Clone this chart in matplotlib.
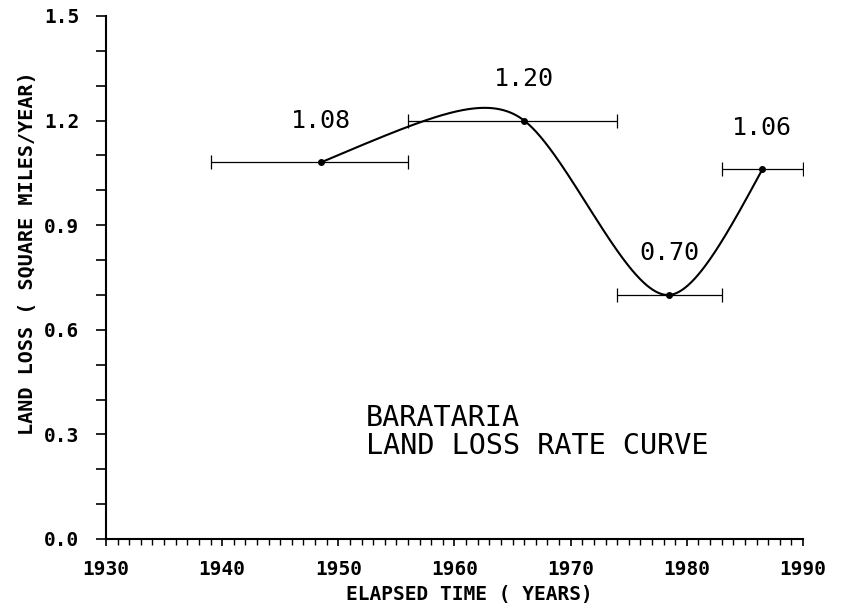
import numpy as np
import matplotlib
matplotlib.use('Agg')
import matplotlib.pyplot as plt
from matplotlib.ticker import MultipleLocator, FormatStrFormatter

# Barataria land loss rate, one estimate per survey interval
years = [1948.5, 1966.0, 1978.5, 1986.5]
rates = [1.08, 1.20, 0.70, 1.06]
interval_start = [1939.0, 1956.0, 1974.0, 1983.0]
interval_end = [1956.0, 1974.0, 1983.0, 1990.0]
rate_labels = ['1.08', '1.20', '0.70', '1.06']


def tension_spline(x, y, sigma, n=400):
    # spline under tension, natural end conditions (z = y'' = 0 at both ends)
    x = np.asarray(x, float)
    y = np.asarray(y, float)
    h = np.diff(x)
    d = np.diff(y) / h
    s = sigma * h
    a = 1.0 / (sigma**2 * h) - 1.0 / (sigma * np.sinh(s))
    b = np.cosh(s) / (sigma * np.sinh(s)) - 1.0 / (sigma**2 * h)
    m = len(x)
    A = np.zeros((m - 2, m - 2))
    r = np.zeros(m - 2)
    for i in range(1, m - 1):
        A[i - 1, i - 1] = b[i - 1] + b[i]
        if i > 1:
            A[i - 1, i - 2] = a[i - 1]
        if i < m - 2:
            A[i - 1, i] = a[i]
        r[i - 1] = d[i] - d[i - 1]
    z = np.zeros(m)
    z[1:-1] = np.linalg.solve(A, r)
    xs, ys = [], []
    for i in range(m - 1):
        t = np.linspace(x[i], x[i + 1], n)
        sh = np.sinh(s[i])
        yy = (z[i] * np.sinh(sigma * (x[i + 1] - t)) + z[i + 1] * np.sinh(sigma * (t - x[i]))) / (sigma**2 * sh) \
            + (y[i] - z[i] / sigma**2) * (x[i + 1] - t) / h[i] \
            + (y[i + 1] - z[i + 1] / sigma**2) * (t - x[i]) / h[i]
        xs.append(t)
        ys.append(yy)
    return np.concatenate(xs), np.concatenate(ys)


plt.rcParams['font.family'] = 'DejaVu Sans Mono'

fig = plt.figure(figsize=(8.45, 6.1), dpi=100)
ax = fig.add_axes([0.1254, 0.1164, 0.8249, 0.8574])

# smooth rate curve through the interval estimates
cx, cy = tension_spline(years, rates, 0.3)
ax.plot(cx, cy, color='black', lw=1.5)

x = np.array(years)
ax.errorbar(x, rates, xerr=[x - np.array(interval_start), np.array(interval_end) - x],
            fmt='none', ecolor='black', elinewidth=0.9, capsize=5, capthick=0.9)
ax.plot(x, rates, 'o', color='black', markersize=4)

for xi, yi, lab in zip(years, rates, rate_labels):
    ax.annotate(lab, (xi, yi), xytext=(0, 30), textcoords='offset points',
                ha='center', va='center', fontsize=18)

ax.text(1952.4, 0.308, 'BARATARIA\nLAND LOSS RATE CURVE', ha='left', va='center',
        fontsize=20.5, linespacing=1.0)

ax.set_xlim(1930, 1990)
ax.set_ylim(0, 1.5)
ax.spines['top'].set_visible(False)
ax.spines['right'].set_visible(False)
ax.spines['left'].set_linewidth(1.5)
ax.spines['bottom'].set_linewidth(1.5)

ax.xaxis.set_major_locator(MultipleLocator(10))
ax.xaxis.set_minor_locator(MultipleLocator(1))
ax.yaxis.set_major_locator(MultipleLocator(0.3))
ax.yaxis.set_minor_locator(MultipleLocator(0.1))
ax.yaxis.set_major_formatter(FormatStrFormatter('%.1f'))
ax.tick_params(axis='x', which='major', direction='out', length=5, width=1.2, pad=10)
ax.tick_params(axis='x', which='minor', direction='out', length=4, width=1.0)
ax.tick_params(axis='y', which='both', direction='out', length=7, width=1.2, pad=12)
for lab in ax.get_xticklabels() + ax.get_yticklabels():
    lab.set_fontsize(14)
    lab.set_fontweight('bold')

fig.text(0.5556, 0.0246, 'ELAPSED TIME ( YEARS)', ha='center', va='center',
         fontsize=14, fontweight='bold')
fig.text(0.033, 0.585, 'LAND LOSS ( SQUARE MILES/YEAR)', ha='center', va='center',
         rotation=90, fontsize=14.5, fontweight='bold')

fig.savefig('out.png', dpi=100)
